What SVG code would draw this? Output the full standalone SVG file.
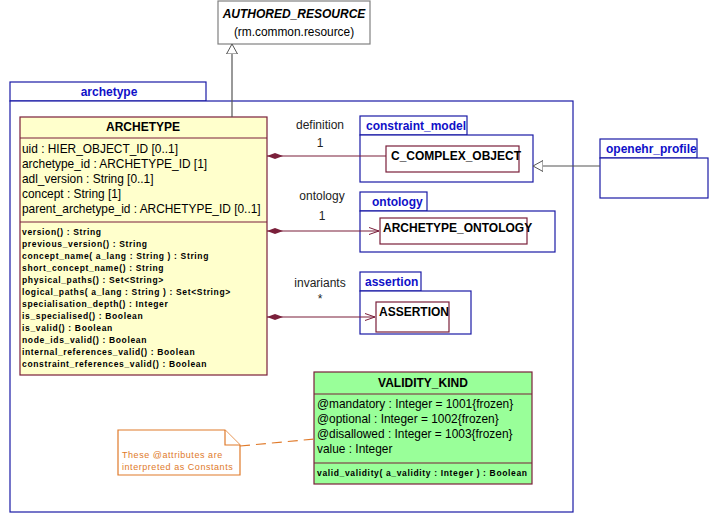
<svg xmlns="http://www.w3.org/2000/svg" width="717" height="530" viewBox="0 0 717 530">
  <style>
    .pkg { fill: #ffffff; stroke: #1a1aa6; stroke-width: 1.2; }
    .pkgname { font-family: "Liberation Sans", Arial, sans-serif; font-size: 12px; font-weight: bold; fill: #1010c8; }
    .cls { stroke: #7a1f3a; stroke-width: 1.2; }
    .ctitle { font-family: "Liberation Sans", Arial, sans-serif; font-size: 12px; font-weight: bold; fill: #000; }
    .attr { font-family: "Liberation Sans", Arial, sans-serif; font-size: 11.9px; fill: #000; }
    .op { font-family: "Liberation Sans", Arial, sans-serif; font-size: 8.5px; font-weight: bold; fill: #000; letter-spacing: 0.65px; }
    .role { font-family: "Liberation Sans", Arial, sans-serif; font-size: 12px; fill: #222; }
    .comp { stroke: #7a1f3a; stroke-width: 1.2; fill: none; }
    .gen { stroke: #555; stroke-width: 1.2; fill: none; }
    .note { fill: #ffffff; stroke: #e07a2a; stroke-width: 1.2; }
    .notetext { font-family: "Liberation Sans", Arial, sans-serif; font-size: 9px; fill: #e07a2a; letter-spacing: 0.55px; }
  </style>
  <defs>
    <marker id="diamond" viewBox="0 0 16 8" refX="0" refY="4" markerWidth="16" markerHeight="8" markerUnits="userSpaceOnUse" orient="auto">
      <path d="M0,4 L8,1 L16,4 L8,7 Z" fill="#7a1f3a"/>
    </marker>
    <marker id="openArrow" viewBox="0 0 10 8" refX="10" refY="4" markerWidth="10" markerHeight="8" markerUnits="userSpaceOnUse" orient="auto">
      <path d="M0,0.5 L10,4 L0,7.5" fill="none" stroke="#7a1f3a" stroke-width="1"/>
    </marker>
    <marker id="hollowTri" viewBox="0 0 10 12" refX="10" refY="6" markerWidth="10" markerHeight="12" markerUnits="userSpaceOnUse" orient="auto">
      <path d="M0,0.5 L10,6 L0,11.5 Z" fill="#ffffff" stroke="#555" stroke-width="1"/>
    </marker>
  </defs>

  <rect width="717" height="530" fill="#ffffff"/>

  <!-- archetype package -->
  <g id="pkg-archetype">
    <rect class="pkg" x="10" y="82" width="196" height="19"/>
    <text class="pkgname" x="109" y="96" text-anchor="middle">archetype</text>
    <rect class="pkg" x="10" y="101" width="563" height="411"/>
  </g>

  <!-- AUTHORED_RESOURCE -->
  <g id="authored-resource">
    <rect x="218" y="1" width="152" height="43" fill="#ffffff" stroke="#808080" stroke-width="1.2"/>
    <text class="ctitle" x="294" y="18" text-anchor="middle" font-style="italic" font-size="13px">AUTHORED_RESOURCE</text>
    <text class="attr" x="294" y="36" text-anchor="middle">(rm.common.resource)</text>
  </g>

  <!-- constraint_model package -->
  <g id="pkg-constraint-model">
    <rect class="pkg" x="360" y="116" width="107" height="19"/>
    <text class="pkgname" x="366" y="130">constraint_model</text>
    <rect class="pkg" x="360" y="135" width="173" height="47"/>
    <g id="c-complex-object">
      <rect class="cls" x="386" y="146" width="133" height="26" fill="#ffffff"/>
      <text class="ctitle" x="391" y="160">C_COMPLEX_OBJECT</text>
    </g>
  </g>

  <!-- ontology package -->
  <g id="pkg-ontology">
    <rect class="pkg" x="360" y="192" width="67" height="19"/>
    <text class="pkgname" x="372" y="206">ontology</text>
    <rect class="pkg" x="360" y="211" width="195" height="41"/>
    <g id="archetype-ontology">
      <rect class="cls" x="380" y="218" width="147" height="26" fill="#ffffff"/>
      <text class="ctitle" x="383" y="232">ARCHETYPE_ONTOLOGY</text>
    </g>
  </g>

  <!-- assertion package -->
  <g id="pkg-assertion">
    <rect class="pkg" x="360" y="272" width="61" height="19"/>
    <text class="pkgname" x="365" y="286">assertion</text>
    <rect class="pkg" x="360" y="291" width="111" height="43"/>
    <g id="assertion">
      <rect class="cls" x="376" y="302" width="73" height="30" fill="#ffffff"/>
      <text class="ctitle" x="379" y="316">ASSERTION</text>
    </g>
  </g>

  <!-- openehr_profile package -->
  <g id="pkg-openehr-profile">
    <rect class="pkg" x="600" y="139" width="97" height="19"/>
    <text class="pkgname" x="606" y="153">openehr_profile</text>
    <rect class="pkg" x="600" y="158" width="108" height="40"/>
  </g>

  <!-- ARCHETYPE class -->
  <g id="archetype">
    <rect class="cls" x="20" y="117" width="247" height="258" fill="#ffffcc"/>
    <line class="cls" x1="20" y1="138" x2="267" y2="138"/>
    <line class="cls" x1="20" y1="222" x2="267" y2="222"/>
    <text class="ctitle" x="143" y="131" text-anchor="middle">ARCHETYPE</text>
    <text class="attr" x="22" y="153">uid : HIER_OBJECT_ID [0..1]</text>
    <text class="attr" x="22" y="168">archetype_id : ARCHETYPE_ID [1]</text>
    <text class="attr" x="22" y="183">adl_version : String [0..1]</text>
    <text class="attr" x="22" y="198">concept : String [1]</text>
    <text class="attr" x="22" y="213">parent_archetype_id : ARCHETYPE_ID [0..1]</text>
    <text class="op" x="22" y="235">version() : String</text>
    <text class="op" x="22" y="247">previous_version() : String</text>
    <text class="op" x="22" y="259">concept_name( a_lang : String ) : String</text>
    <text class="op" x="22" y="271">short_concept_name() : String</text>
    <text class="op" x="22" y="283">physical_paths() : Set&lt;String&gt;</text>
    <text class="op" x="22" y="295">logical_paths( a_lang : String ) : Set&lt;String&gt;</text>
    <text class="op" x="22" y="307">specialisation_depth() : Integer</text>
    <text class="op" x="22" y="319">is_specialised() : Boolean</text>
    <text class="op" x="22" y="331">is_valid() : Boolean</text>
    <text class="op" x="22" y="343">node_ids_valid() : Boolean</text>
    <text class="op" x="22" y="355">internal_references_valid() : Boolean</text>
    <text class="op" x="22" y="367">constraint_references_valid() : Boolean</text>
  </g>

  <!-- VALIDITY_KIND class -->
  <g id="validity-kind">
    <rect class="cls" x="314" y="372" width="218" height="112" fill="#99ff99"/>
    <line class="cls" x1="314" y1="394" x2="532" y2="394"/>
    <line class="cls" x1="314" y1="463" x2="532" y2="463"/>
    <text class="ctitle" x="423" y="387" text-anchor="middle">VALIDITY_KIND</text>
    <text class="attr" x="317" y="408">@mandatory : Integer = 1001{frozen}</text>
    <text class="attr" x="317" y="423">@optional : Integer = 1002{frozen}</text>
    <text class="attr" x="317" y="438">@disallowed : Integer = 1003{frozen}</text>
    <text class="attr" x="317" y="453">value : Integer</text>
    <text class="op" x="317" y="476">valid_validity( a_validity : Integer ) : Boolean</text>
  </g>

  <!-- note -->
  <g id="note-constants">
    <path class="note" d="M118,430 L225,430 L240,445 L240,475 L118,475 Z"/>
    <path class="note" d="M225,430 L225,445 L240,445" fill="none"/>
    <text class="notetext" x="122" y="458">These @attributes are</text>
    <text class="notetext" x="122" y="470">interpreted as Constants</text>
  </g>

  <!-- connectors -->
  <g id="connectors">
    <line class="gen" x1="232" y1="117" x2="232" y2="44" marker-end="url(#hollowTri)"/>
    <line class="gen" x1="600" y1="166" x2="533" y2="166" marker-end="url(#hollowTri)"/>
    <line class="comp" x1="267" y1="156" x2="386" y2="156" marker-start="url(#diamond)"/>
    <line class="comp" x1="267" y1="231" x2="379" y2="231" marker-start="url(#diamond)" marker-end="url(#openArrow)"/>
    <line class="comp" x1="267" y1="317" x2="375" y2="317" marker-start="url(#diamond)" marker-end="url(#openArrow)"/>
    <line x1="240" y1="446" x2="314" y2="439" stroke="#e07a2a" stroke-width="1.2" stroke-dasharray="10,6"/>
    <text class="role" x="320" y="129" text-anchor="middle">definition</text>
    <text class="role" x="320" y="147" text-anchor="middle">1</text>
    <text class="role" x="322" y="200" text-anchor="middle">ontology</text>
    <text class="role" x="322" y="220" text-anchor="middle">1</text>
    <text class="role" x="320" y="287" text-anchor="middle">invariants</text>
    <text class="role" x="320" y="303" text-anchor="middle">*</text>
  </g>
</svg>
